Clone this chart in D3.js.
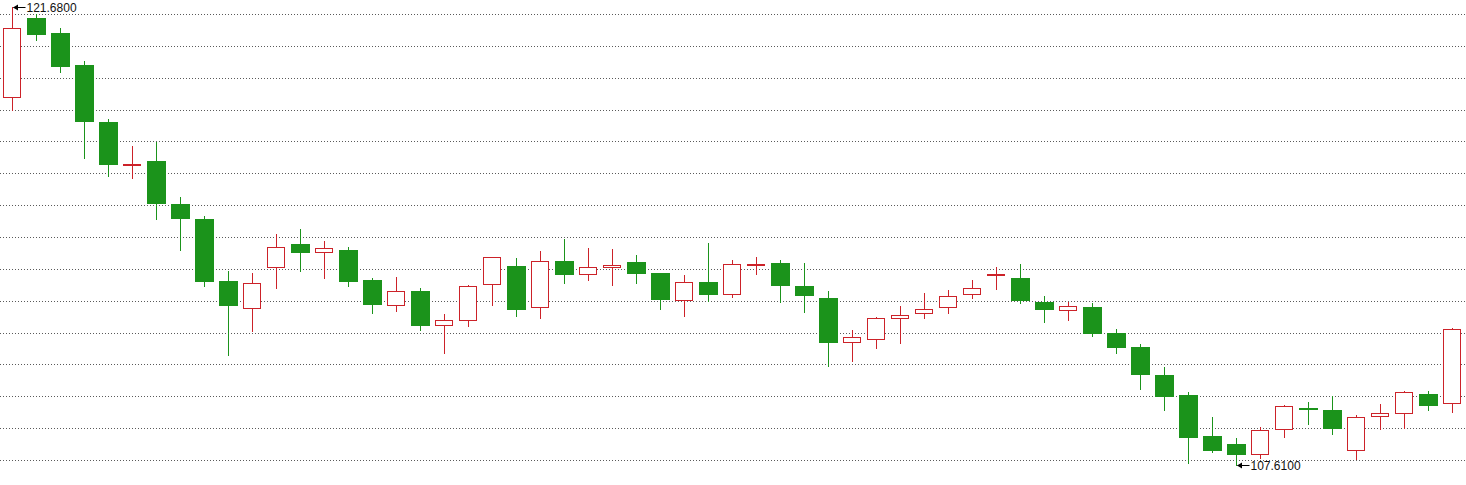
<!DOCTYPE html>
<html>
<head>
<meta charset="utf-8">
<script src="https://cdn.jsdelivr.net/npm/d3@7"></script>
<style>
  html, body { margin: 0; padding: 0; background: #ffffff; }
  svg { display: block; }
</style>
</head>
<body>
<svg id="chart" width="1466" height="485"></svg>
<script>
// ---- data ----
const categories = ["1","2","3","4","5","6","7","8","9","10","11","12","13","14","15","16","17","18","19","20",
  "21","22","23","24","25","26","27","28","29","30","31","32","33","34","35","36","37","38","39","40",
  "41","42","43","44","45","46","47","48","49","50","51","52","53","54","55","56","57","58","59","60","61"];

const openValues = [118.93,121.35,120.89,119.91,118.14,116.87,116.95,115.63,115.17,113.27,
  112.43,113.69,114.40,114.15,114.22,113.30,112.52,112.96,111.90,112.06,
  113.16,113.73,112.46,113.88,113.47,113.69,113.85,113.50,112.67,113.24,
  112.86,113.78,113.82,113.11,112.74,111.38,111.47,112.12,112.27,112.46,
  112.86,113.47,113.36,112.62,112.37,112.47,111.67,111.24,110.38,109.76,
  108.50,108.26,107.94,108.71,109.365,109.30,108.06,109.11,109.20,109.79,
  109.51];
const highValues = [121.68,121.46,121.04,120.03,118.25,117.42,117.53,115.85,115.26,113.57,
  113.51,114.71,114.86,114.49,114.31,113.36,113.39,113.05,112.25,113.14,
  114.00,113.97,114.19,114.56,114.28,114.25,114.07,113.51,113.45,114.43,
  113.90,114.00,113.91,113.82,112.96,111.76,112.15,112.50,112.90,112.99,
  113.30,113.69,113.79,112.81,112.63,112.58,111.79,111.33,110.62,109.85,
  109.09,108.44,108.77,109.45,109.55,109.72,109.14,109.49,109.89,109.89,
  111.81];
const lowValues = [118.51,120.68,119.70,117.06,116.50,116.44,115.18,114.23,113.12,111.00,
  111.74,113.06,113.58,113.37,113.12,112.29,112.35,111.77,111.06,111.89,
  112.54,112.20,112.14,113.21,113.31,113.15,113.21,112.41,112.20,112.65,
  112.78,113.49,112.63,112.32,110.66,110.82,111.22,111.37,112.14,112.29,
  112.75,113.03,112.60,112.02,112.08,111.58,111.06,109.96,109.31,107.68,
  108.02,107.61,107.83,108.48,108.88,108.57,107.80,108.73,108.76,109.30,
  109.25];
const closeValues = [121.03,120.84,119.85,118.16,116.84,116.87,115.64,115.18,113.24,112.51,
  113.20,114.30,114.14,114.27,113.24,112.54,112.95,111.89,112.06,113.10,
  113.99,112.38,113.87,113.46,113.69,113.75,113.49,112.68,113.23,112.85,
  113.78,113.78,113.12,112.81,111.37,111.54,112.12,112.21,112.40,112.80,
  113.04,113.47,112.66,112.37,112.49,111.65,111.22,110.39,109.71,108.45,
  108.05,107.93,108.69,109.41,109.36,108.73,109.08,109.20,109.85,109.43,
  111.78];
const gridLineCount = 15;

// ---- styles ----
const UP = "#cc2229", DOWN = "#1b931b";

const data = categories.map((c, i) => ({
  cat: c, o: openValues[i], h: highValues[i], l: lowValues[i], c: closeValues[i]
}));

const svg = d3.select("#chart");
const W = 1466;

const x = d3.scaleBand().domain(categories).range([0.5, 1464.5]).padding(0);
const yMin = d3.min(lowValues), yMax = d3.max(highValues);
const y = d3.scaleLinear().domain([yMin, yMax]).range([465, 7.3]);
const cx = d => x(d.cat) + x.bandwidth() / 2;

// grid lines (evenly spaced across the plot)
const gridY = d3.scaleLinear().domain([0, gridLineCount - 1]).range([14, 460]);
svg.append("g").selectAll("line")
  .data(d3.range(gridLineCount))
  .join("line")
  .attr("x1", 0).attr("x2", W)
  .attr("y1", i => Math.round(gridY(i)) + 0.5)
  .attr("y2", i => Math.round(gridY(i)) + 0.5)
  .attr("stroke", "#5a5a5a")
  .attr("stroke-width", 1)
  .attr("stroke-dasharray", "1,2");

const candles = svg.append("g").selectAll("g")
  .data(data).join("g");

// wicks
candles.append("line")
  .attr("x1", cx).attr("x2", cx)
  .attr("y1", d => Math.round(y(d.h)))
  .attr("y2", d => Math.round(y(d.l)) + 1)
  .attr("stroke", d => d.c >= d.o ? UP : DOWN)
  .attr("stroke-width", 1);

// up (hollow) bodies
candles.filter(d => d.c >= d.o).append("rect")
  .attr("x", d => cx(d) - 9)
  .attr("y", d => Math.round(y(d.c)) + 0.5)
  .attr("width", 17)
  .attr("height", d => Math.max(1, Math.round(y(d.o)) - Math.round(y(d.c))))
  .attr("fill", "#ffffff")
  .attr("stroke", UP)
  .attr("stroke-width", 1);

// down (filled) bodies
candles.filter(d => d.c < d.o).append("rect")
  .attr("x", d => cx(d) - 9.5)
  .attr("y", d => Math.round(y(d.o)))
  .attr("width", 19)
  .attr("height", d => Math.max(2, Math.round(y(d.c)) - Math.round(y(d.o))))
  .attr("fill", DOWN);

// max / min annotations
const iMax = d3.maxIndex(highValues);
const iMin = d3.minIndex(lowValues);
const notes = [
  { d: data[iMax], v: highValues[iMax] },
  { d: data[iMin], v: lowValues[iMin] }
];
const ng = svg.append("g").selectAll("g").data(notes).join("g");
ng.append("line")
  .attr("x1", n => cx(n.d) + 1)
  .attr("x2", n => cx(n.d) + 13)
  .attr("y1", n => Math.round(y(n.v)) + 0.5)
  .attr("y2", n => Math.round(y(n.v)) + 0.5)
  .attr("stroke", "#000").attr("stroke-width", 1);
ng.append("path")
  .attr("d", n => {
    const px = cx(n.d) + 0.5, py = Math.round(y(n.v)) + 0.5;
    return `M${px},${py} L${px + 5},${py - 3} L${px + 5},${py + 3} Z`;
  })
  .attr("fill", "#000");
ng.append("text")
  .attr("x", n => cx(n.d) + 14)
  .attr("y", n => y(n.v) + 4.5)
  .attr("font-family", "'Liberation Sans', Arial, sans-serif")
  .attr("font-size", 12)
  .attr("fill", "#111")
  .text(n => n.v.toFixed(4));
</script>
</body>
</html>
